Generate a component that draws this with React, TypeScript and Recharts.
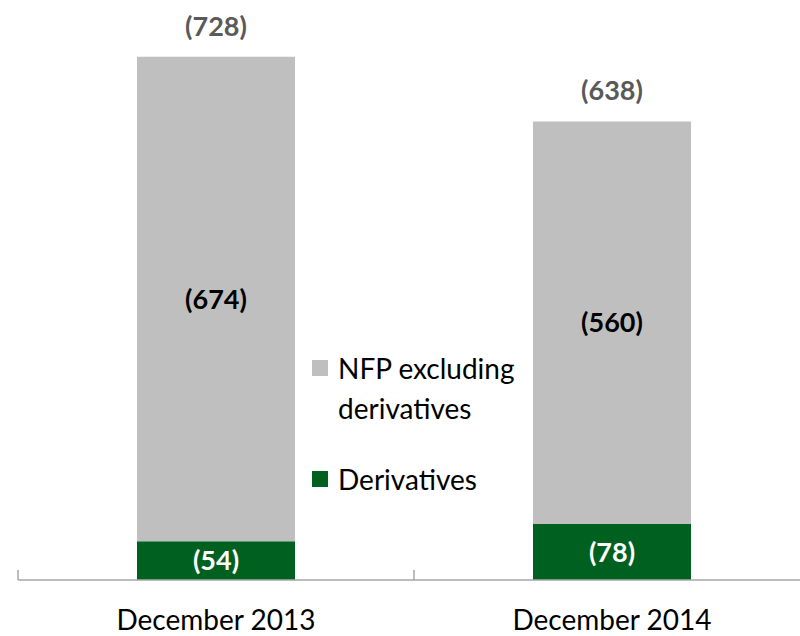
import React from 'react'
import { BarChart, Bar, XAxis, YAxis, LabelList, Legend } from 'recharts'

const periods = ['December 2013', 'December 2014']
const derivatives = [54, 78]
const nfpExDerivatives = [674, 560]

const GREY = '#BFBFBF'
const GREEN = '#00601F'
const AXIS = '#A6A6A6'
const FONT = 'Lato, "Noto Sans", sans-serif'
const TICK_MARGIN = 30

const chartData = periods.map((period, i) => ({
  period,
  derivatives: derivatives[i],
  nfp: nfpExDerivatives[i],
  total: derivatives[i] + nfpExDerivatives[i],
}))

const paren = (v: any) => `(${v})`

// Excel style: small tick marks on the category boundaries, pointing up
const CategoryTick = (props: any) => {
  const { x, y, payload, index, visibleTicksCount } = props
  const half = payload.offset ?? 0
  const axisY = y - TICK_MARGIN
  const isLast = index === visibleTicksCount - 1
  return (
    <g>
      <line x1={x - half} x2={x - half} y1={axisY} y2={axisY - 10} stroke={AXIS} strokeWidth={1.5} />
      {isLast && (
        <line x1={x + half} x2={x + half} y1={axisY} y2={axisY - 10} stroke={AXIS} strokeWidth={1.5} />
      )}
      <text x={x} y={y} dy="0.71em" textAnchor="middle" fill="#000" fontSize={28} fontFamily={FONT}>
        {payload.value}
      </text>
    </g>
  )
}

// legend sits between the two bars, like the original slide
const LegendBox = () => (
  <div style={{ fontFamily: FONT, fontSize: 28, lineHeight: '40px', color: '#000' }}>
    <div style={{ display: 'flex', alignItems: 'flex-start' }}>
      <span style={{ width: 16, height: 16, background: GREY, marginTop: 12, marginRight: 10 }} />
      <span>
        NFP excluding
        <br />
        derivatives
      </span>
    </div>
    <div style={{ display: 'flex', alignItems: 'flex-start', marginTop: 31 }}>
      <span style={{ width: 16, height: 16, background: GREEN, marginTop: 12, marginRight: 10 }} />
      <span>Derivatives</span>
    </div>
  </div>
)

export default function App() {
  return (
    <div style={{ position: 'fixed', left: 0, top: 0, width: 800, height: 636, overflow: 'hidden', background: '#fff' }}>
      <BarChart
        width={812}
        height={636}
        data={chartData}
        margin={{ top: 5, right: 2, left: 18, bottom: 0 }}
        barSize={158}
      >
        <XAxis
          dataKey="period"
          height={56}
          axisLine={{ stroke: AXIS, strokeWidth: 1.5 }}
          tickLine={false}
          tickSize={0}
          tickMargin={TICK_MARGIN}
          interval={0}
          tick={CategoryTick}
        />
        <YAxis hide domain={[0, 800]} />
        <Legend
          layout="vertical"
          align="center"
          verticalAlign="middle"
          content={() => <LegendBox />}
          wrapperStyle={{ left: 312, top: 348, width: 230 }}
        />
        <Bar dataKey="derivatives" stackId="a" fill={GREEN} isAnimationActive={false}>
          <LabelList
            dataKey="derivatives"
            position="center"
            formatter={paren}
            fill="#fff"
            style={{ fontSize: 27, fontWeight: 700, fontFamily: FONT }}
          />
        </Bar>
        <Bar dataKey="nfp" stackId="a" fill={GREY} isAnimationActive={false}>
          <LabelList
            dataKey="nfp"
            position="center"
            formatter={paren}
            fill="#000"
            style={{ fontSize: 27, fontWeight: 700, fontFamily: FONT }}
          />
          <LabelList
            dataKey="total"
            position="top"
            offset={21}
            formatter={paren}
            fill="#595959"
            style={{ fontSize: 27, fontWeight: 700, fontFamily: FONT }}
          />
        </Bar>
      </BarChart>
    </div>
  )
}
